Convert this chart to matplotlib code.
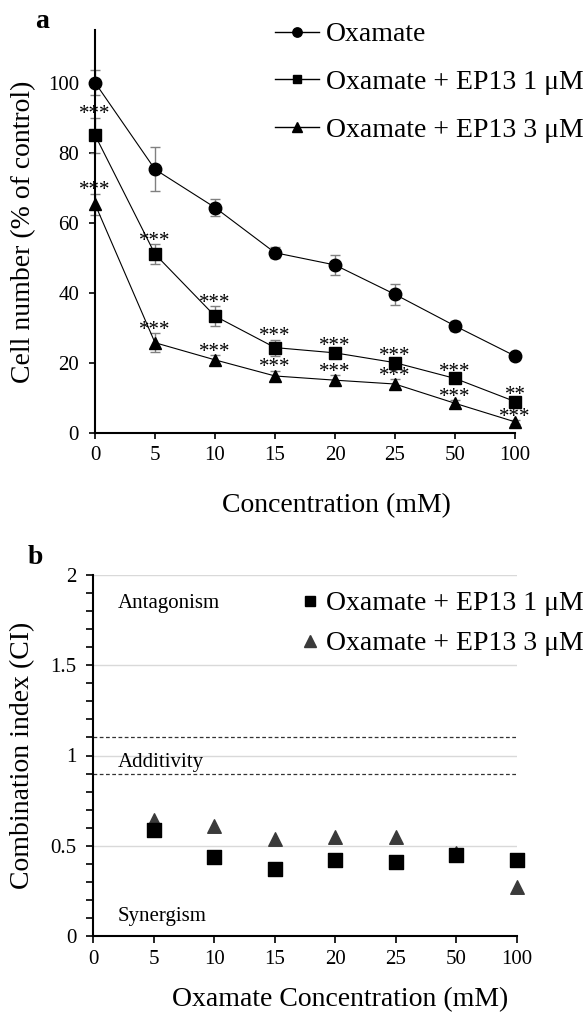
import matplotlib
matplotlib.use("Agg")
import matplotlib.pyplot as plt
from matplotlib.lines import Line2D
from matplotlib.ticker import MultipleLocator, FuncFormatter
import numpy as np

plt.rcParams["font.family"] = ["Liberation Serif", "DejaVu Serif"]

# ---- data ----
conc_labels = ["0", "5", "10", "15", "20", "25", "50", "100"]

# panel a: cell number (% of control)
oxamate = [100.0, 75.2, 64.3, 51.4, 47.9, 39.5, 30.5, 21.9]
oxamate_err = [3.6, 6.3, 2.4, 1.5, 2.9, 2.9, 1.5, 1.0]
ep13_1 = [85.0, 51.0, 33.3, 24.3, 22.8, 20.0, 15.5, 8.9]
ep13_1_err = [5.0, 2.8, 2.8, 2.3, 1.0, 1.0, 1.0, 1.0]
ep13_3 = [65.3, 25.7, 20.8, 16.2, 15.0, 13.9, 8.4, 3.1]
ep13_3_err = [3.0, 2.7, 1.3, 1.5, 1.5, 1.3, 1.0, 0.5]
stars_1 = ["***", "***", "***", "***", "***", "***", "***", "**"]
stars_3 = ["***", "***", "***", "***", "***", "***", "***", "***"]

# panel b: combination index
ci_labels = ["5", "10", "15", "20", "25", "50", "100"]
ci_ep13_1 = [0.59, 0.44, 0.37, 0.42, 0.41, 0.45, 0.42]
ci_ep13_3 = [0.64, 0.61, 0.54, 0.55, 0.55, 0.46, 0.27]

W, H = 585, 1014
fig = plt.figure(figsize=(W / 100, H / 100), dpi=100)


def box(x0, y0, x1, y1):
    # pixel box -> figure fraction [left, bottom, width, height]
    return [x0 / W, 1 - y1 / H, (x1 - x0) / W, (y1 - y0) / H]


# ================= panel a =================
ax = fig.add_axes(box(95, 30, 515, 432.7))
x = np.arange(len(conc_labels))

series = [(oxamate, oxamate_err, "o", 9, "Oxamate"),
          (ep13_1, ep13_1_err, "s", 8, "Oxamate + EP13 1 \u03bcM"),
          (ep13_3, ep13_3_err, "^", 9, "Oxamate + EP13 3 \u03bcM")]
for vals, err, mk, ms, lab in series:
    ax.errorbar(x, vals, yerr=err, fmt="none", ecolor="#808080",
                elinewidth=1, capsize=3.5, capthick=1, zorder=2, clip_on=False)
    ax.plot(x, vals, "-", color="black", lw=0.8, marker=mk, ms=ms,
            zorder=3, clip_on=False)

for vals, err, stars in [(ep13_1, ep13_1_err, stars_1), (ep13_3, ep13_3_err, stars_3)]:
    for xi, v, e, s in zip(x, vals, err, stars):
        ax.annotate(s, (xi, v + e), xytext=(0, 2), textcoords="offset points",
                    ha="center", va="center", fontsize=15, zorder=5)

ax.set_xlim(0, len(conc_labels) - 1)
ax.set_ylim(0, 115)
ax.set_xticks(x)
ax.set_xticklabels(conc_labels)
ax.set_yticks([0, 20, 40, 60, 80, 100])
for s in ["top", "right"]:
    ax.spines[s].set_visible(False)
for s in ["left", "bottom"]:
    ax.spines[s].set_linewidth(1.5)
ax.tick_params(axis="both", direction="out", length=4.5, width=1.2, labelsize=15)
ax.tick_params(axis="y", pad=7)
ax.tick_params(axis="x", pad=5)
ax.set_ylabel("Cell number (% of control)", fontsize=20)
ax.set_xlabel("Concentration (mM)", fontsize=20)
ax.yaxis.set_label_coords(-0.171, 0.5)
ax.xaxis.set_label_coords(0.576, -0.18)
ax.xaxis.label.set_va("center")
ax.yaxis.label.set_va("center")

handles_a = [Line2D([], [], color="black", lw=1, marker=m, ms=ms * 0.75)
             for _, _, m, ms, _ in series]
fig.legend(handles_a, [s[4] for s in series], loc="upper left",
           bbox_to_anchor=(275 / W, 1 - 22 / H), frameon=False, fontsize=20,
           handlelength=1.58, handletextpad=0.25, labelspacing=0.8,
           borderpad=0, borderaxespad=0)

fig.text(42 / W, 1 - 22 / H, "a", fontsize=20, fontweight="bold",
         ha="center", va="center")

# ================= panel b =================
ax2 = fig.add_axes(box(93, 575, 517, 936))
xb = np.arange(1, len(ci_labels) + 1)
ax2.scatter(xb, ci_ep13_3, marker="^", s=95, color="#3a3a3a", zorder=3,
            clip_on=False, label="Oxamate + EP13 3 \u03bcM")
ax2.scatter(xb, ci_ep13_1, marker="s", s=90, color="black", zorder=4,
            clip_on=False, label="Oxamate + EP13 1 \u03bcM")

ax2.axhline(1.1, ls=(0, (3, 2)), color="#333333", lw=0.9, zorder=1)
ax2.axhline(0.9, ls=(0, (3, 2)), color="#333333", lw=0.9, zorder=1)
ax2.set_xlim(0, len(conc_labels) - 1)
ax2.set_ylim(0, 2)
ax2.set_xticks(np.arange(len(conc_labels)))
ax2.set_xticklabels(conc_labels)
ax2.yaxis.set_major_locator(MultipleLocator(0.5))
ax2.yaxis.set_minor_locator(MultipleLocator(0.1))
ax2.yaxis.set_major_formatter(FuncFormatter(lambda v, p: f"{v:g}"))
ax2.yaxis.grid(True, which="major", color="#d9d9d9", lw=1, zorder=0)
ax2.set_axisbelow(True)
for s in ["top", "right"]:
    ax2.spines[s].set_visible(False)
for s in ["left", "bottom"]:
    ax2.spines[s].set_linewidth(1.5)
ax2.tick_params(axis="both", which="both", direction="out", length=4.8,
                width=1.2, labelsize=15)
ax2.tick_params(axis="y", pad=7)
ax2.tick_params(axis="x", pad=5)
ax2.set_ylabel("Combination index (CI)", fontsize=20)
ax2.set_xlabel("Oxamate Concentration (mM)", fontsize=20)
ax2.yaxis.set_label_coords(-0.165, 0.5)
ax2.xaxis.set_label_coords(0.583, -0.177)
ax2.xaxis.label.set_va("center")
ax2.yaxis.label.set_va("center")

ax2.text(0.41, 1.84, "Antagonism", fontsize=15, va="center", ha="left")
ax2.text(0.41, 0.96, "Additivity", fontsize=15, va="center", ha="left")
ax2.text(0.41, 0.11, "Synergism", fontsize=15, va="center", ha="left")

handles_b = [Line2D([], [], ls="none", marker="s", ms=7.5, color="black"),
             Line2D([], [], ls="none", marker="^", ms=8, color="#3a3a3a")]
fig.legend(handles_b, ["Oxamate + EP13 1 \u03bcM", "Oxamate + EP13 3 \u03bcM"],
           loc="upper left", bbox_to_anchor=(302 / W, 1 - 591 / H),
           frameon=False, fontsize=20, handlelength=0.6, handletextpad=0.25,
           labelspacing=0.52, borderpad=0, borderaxespad=0)

fig.text(35 / W, 1 - 557 / H, "b", fontsize=20, fontweight="bold",
         ha="center", va="center")

fig.savefig("out.png", dpi=100)
